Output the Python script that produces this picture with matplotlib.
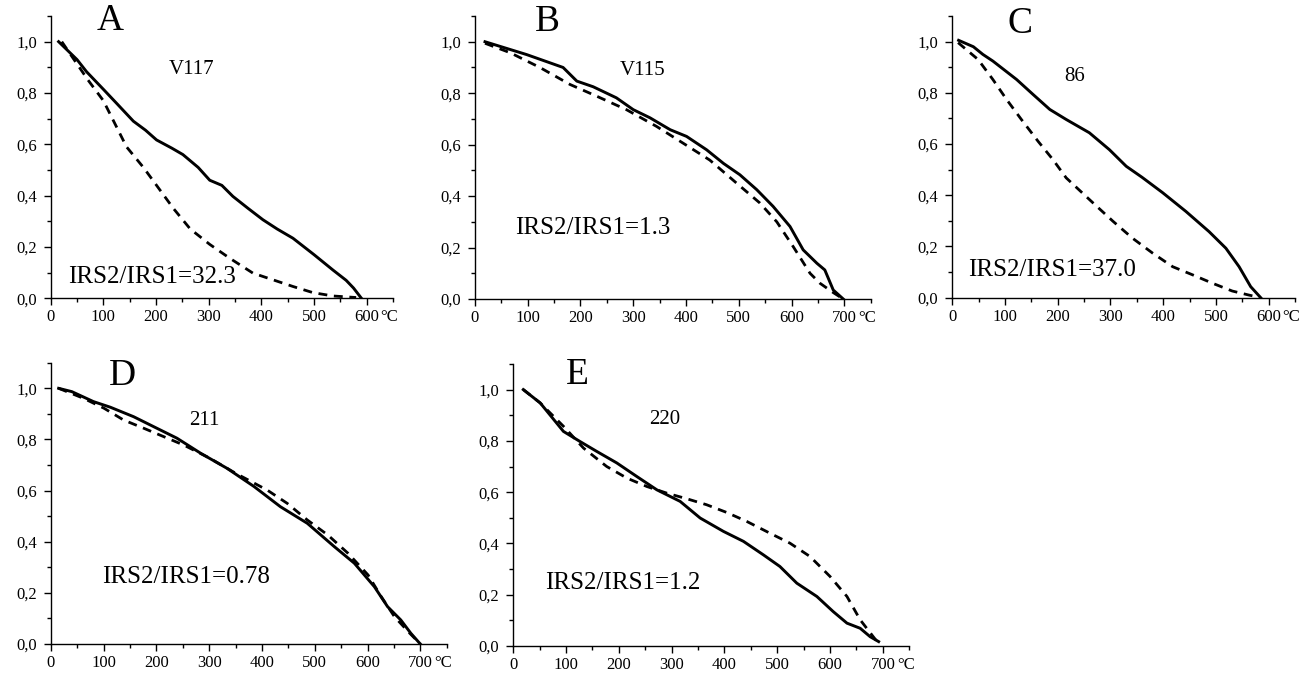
import matplotlib
matplotlib.use("Agg")
import matplotlib.pyplot as plt
from matplotlib.ticker import MultipleLocator, FixedLocator

plt.rcParams['font.family'] = ['Liberation Serif', 'DejaVu Serif']

# ---------- data ----------
# Panel A (V117)
a_solid_T = [15, 50, 68, 102, 125, 157, 180, 201, 230, 251, 280, 302, 325, 346, 375, 403, 430, 460, 500, 536, 561, 575, 590]
a_solid_v = [1.0, 0.93, 0.883, 0.81, 0.76, 0.69, 0.655, 0.617, 0.585, 0.56, 0.51, 0.46, 0.44, 0.397, 0.35, 0.306, 0.27, 0.234, 0.17, 0.11, 0.07, 0.04, 0.0]
a_dash_T = [21, 71, 100, 144, 176, 201, 233, 265, 302, 340, 384, 422, 460, 498, 536, 580]
a_dash_v = [1.0, 0.85, 0.77, 0.59, 0.51, 0.44, 0.35, 0.27, 0.21, 0.156, 0.098, 0.072, 0.046, 0.022, 0.009, 0.003]

# Panel B (V115)
b_solid_T = [19, 98, 167, 193, 224, 268, 300, 332, 370, 401, 439, 471, 502, 534, 565, 597, 622, 648, 663, 679, 698]
b_solid_v = [1.0, 0.95, 0.90, 0.847, 0.825, 0.782, 0.736, 0.704, 0.658, 0.632, 0.58, 0.527, 0.483, 0.425, 0.36, 0.282, 0.191, 0.139, 0.113, 0.035, 0.0]
b_dash_T = [19, 67, 123, 180, 231, 287, 344, 395, 445, 496, 540, 572, 603, 635, 654, 679, 698]
b_dash_v = [0.994, 0.957, 0.90, 0.834, 0.788, 0.736, 0.671, 0.605, 0.54, 0.45, 0.373, 0.30, 0.204, 0.10, 0.061, 0.025, 0.0]

# Panel C (86)
c_solid_T = [12, 40, 58, 77, 122, 153, 185, 216, 260, 298, 330, 360, 399, 443, 487, 519, 544, 566, 585]
c_solid_v = [1.005, 0.98, 0.95, 0.924, 0.852, 0.794, 0.735, 0.696, 0.644, 0.578, 0.513, 0.47, 0.41, 0.337, 0.258, 0.193, 0.121, 0.043, 0.0]
c_dash_T = [11, 49, 77, 103, 131, 163, 191, 216, 267, 305, 342, 380, 418, 456, 494, 531, 563, 585]
c_dash_v = [0.996, 0.93, 0.852, 0.774, 0.696, 0.61, 0.539, 0.468, 0.37, 0.298, 0.232, 0.174, 0.121, 0.089, 0.056, 0.026, 0.01, 0.0]

# Panel D (211)
d_solid_T = [15, 40, 81, 113, 157, 195, 239, 284, 334, 385, 435, 486, 537, 575, 613, 638, 663, 682, 700]
d_solid_v = [1.0, 0.987, 0.948, 0.926, 0.889, 0.85, 0.805, 0.746, 0.687, 0.616, 0.537, 0.472, 0.381, 0.316, 0.224, 0.146, 0.094, 0.042, 0.0]
d_dash_T = [15, 62, 101, 138, 176, 214, 252, 300, 350, 410, 448, 486, 525, 563, 601, 626, 651, 680, 700]
d_dash_v = [1.0, 0.961, 0.922, 0.876, 0.844, 0.811, 0.778, 0.728, 0.668, 0.602, 0.55, 0.485, 0.426, 0.355, 0.27, 0.185, 0.107, 0.042, 0.0]

# Panel E (220)
e_solid_T = [19, 51, 95, 126, 158, 196, 234, 272, 316, 354, 398, 436, 474, 505, 537, 575, 606, 632, 657, 676, 692]
e_solid_v = [1.0, 0.948, 0.837, 0.798, 0.759, 0.714, 0.661, 0.609, 0.564, 0.499, 0.447, 0.408, 0.355, 0.31, 0.245, 0.193, 0.134, 0.089, 0.069, 0.036, 0.017]
e_dash_T = [19, 51, 95, 133, 177, 215, 253, 291, 329, 366, 404, 442, 486, 524, 562, 600, 632, 657, 689]
e_dash_v = [1.0, 0.948, 0.857, 0.772, 0.70, 0.655, 0.622, 0.596, 0.574, 0.551, 0.521, 0.486, 0.44, 0.401, 0.349, 0.271, 0.193, 0.102, 0.017]

panel_letters = ["A", "B", "C", "D", "E"]
sample_names = ["V117", "V115", "86", "211", "220"]
ratio_labels = ["IRS2/IRS1=32.3", "IRS2/IRS1=1.3", "IRS2/IRS1=37.0", "IRS2/IRS1=0.78", "IRS2/IRS1=1.2"]
y_ticks = [0.0, 0.2, 0.4, 0.6, 0.8, 1.0]
y_tick_labels = ["0,0", "0,2", "0,4", "0,6", "0,8", "1,0"]

panels = [
    dict(solid=(a_solid_T, a_solid_v), dash=(a_dash_T, a_dash_v), xmax=650, last=600,
         rect=[0.0388, 0.5581, 0.2619, 0.4182], letter=(112, 1.08), name=(268, 0.89), ratio=(192, 0.083)),
    dict(solid=(b_solid_T, b_solid_v), dash=(b_dash_T, b_dash_v), xmax=750, last=700,
         rect=[0.3634, 0.5570, 0.3028, 0.4193], letter=(138, 1.079), name=(318, 0.888), ratio=(224, 0.277)),
    dict(solid=(c_solid_T, c_solid_v), dash=(c_dash_T, c_dash_v), xmax=650, last=600,
         rect=[0.7286, 0.5590, 0.2622, 0.4173], letter=(128, 1.07), name=(232, 0.864), ratio=(189, 0.108)),
    dict(solid=(d_solid_T, d_solid_v), dash=(d_dash_T, d_dash_v), xmax=750, last=700,
         rect=[0.0388, 0.0459, 0.3030, 0.4167], letter=(135, 1.05), name=(291, 0.876), ratio=(257, 0.262)),
    dict(solid=(e_solid_T, e_solid_v), dash=(e_dash_T, e_dash_v), xmax=750, last=700,
         rect=[0.3927, 0.0430, 0.3030, 0.4178], letter=(121, 1.059), name=(287, 0.883), ratio=(208, 0.246)),
]

fig = plt.figure(figsize=(13.07, 6.75), dpi=100)

for i, p in enumerate(panels):
    ax = fig.add_axes(p["rect"])
    ax.plot(p["dash"][0], p["dash"][1], color="black", lw=2.0, linestyle=(0, (3.2, 2.4)),
            dash_capstyle="butt")
    ax.plot(p["solid"][0], p["solid"][1], color="black", lw=2.1, solid_joinstyle="round")
    ax.set_xlim(0, p["xmax"])
    ax.set_ylim(0, 1.1)
    for s in ["top", "right"]:
        ax.spines[s].set_visible(False)
    for s in ["left", "bottom"]:
        ax.spines[s].set_linewidth(1.0)
    xt = list(range(0, p["last"] + 1, 100))
    ax.xaxis.set_major_locator(FixedLocator(xt))
    ax.set_xticklabels([str(v) for v in xt])
    ax.xaxis.set_minor_locator(MultipleLocator(50))
    ax.yaxis.set_major_locator(FixedLocator(y_ticks))
    ax.set_yticklabels(y_tick_labels)
    ax.yaxis.set_minor_locator(MultipleLocator(0.1))
    ax.tick_params(which="major", length=5, width=1.0, labelsize=12, direction="out", pad=3)
    ax.tick_params(axis="y", which="major", pad=5)
    ax.tick_params(which="minor", length=3, width=1.0, direction="out")
    ax.annotate("°C", xy=(p["last"], 0), xycoords=ax.get_xaxis_transform(),
                xytext=(10, -8), textcoords="offset points", ha="left", va="top", fontsize=12)
    ax.text(p["letter"][0], p["letter"][1], panel_letters[i], fontsize=27, ha="center", va="center")
    ax.text(p["name"][0], p["name"][1], sample_names[i], fontsize=15, ha="center", va="center")
    ax.text(p["ratio"][0], p["ratio"][1], ratio_labels[i], fontsize=18, ha="center", va="center")

fig.savefig("out.png", dpi=100)
